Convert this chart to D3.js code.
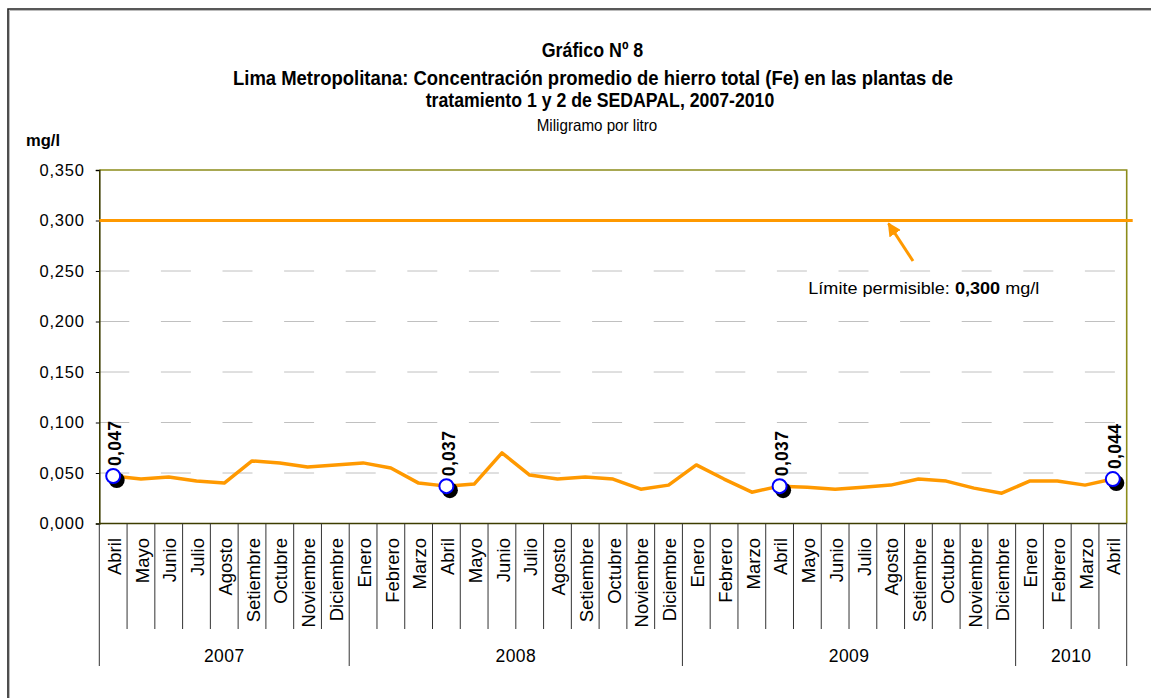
<!DOCTYPE html>
<html>
<head>
<meta charset="utf-8">
<script src="https://cdn.jsdelivr.net/npm/d3@7/dist/d3.min.js"></script>
<style>
  html, body { margin: 0; padding: 0; background: #fff; }
  svg { display: block; font-family: "Liberation Sans", Arial, sans-serif; }
</style>
</head>
<body>
<svg id="chart" width="1151" height="698"></svg>
<script>
// ---------- DATA ----------
const months = ["Abril","Mayo","Junio","Julio","Agosto","Setiembre","Octubre","Noviembre","Diciembre",
  "Enero","Febrero","Marzo","Abril","Mayo","Junio","Julio","Agosto","Setiembre","Octubre","Noviembre","Diciembre",
  "Enero","Febrero","Marzo","Abril","Mayo","Junio","Julio","Agosto","Setiembre","Octubre","Noviembre","Diciembre",
  "Enero","Febrero","Marzo","Abril"];
const years = ["2007","2008","2009","2010"];
const yearCounts = [9, 12, 12, 4];
const values = [0.047,0.044,0.046,0.042,0.040,0.062,0.060,0.056,0.058,
  0.060,0.055,0.040,0.037,0.039,0.070,0.048,0.044,0.046,0.044,0.034,0.038,
  0.058,0.044,0.031,0.037,0.036,0.034,0.036,0.038,0.044,0.042,0.035,0.030,
  0.042,0.042,0.038,0.044];
const highlighted = [0, 12, 24, 36];
const yTicks = [0, 0.05, 0.10, 0.15, 0.20, 0.25, 0.30, 0.35];
const limitValue = 0.300;
const titleLines = ["Gráfico Nº 8",
  "Lima Metropolitana: Concentración promedio de hierro total (Fe) en las plantas de",
  "tratamiento 1 y 2 de SEDAPAL, 2007-2010"];
const subtitle = "Miligramo por litro";
const yUnit = "mg/l";

// ---------- SETUP ----------
(function () {
const svg = d3.select("#chart");
const fmt = v => v.toFixed(3).replace(".", ",");
const orange = "#ff9900";

const pLeft = 99.3, pRight = 1126.7, pTop = 170, pBottom = 523.5;
const x = d3.scaleBand().domain(d3.range(months.length)).range([pLeft, pRight]).paddingInner(0).paddingOuter(0);
const y = d3.scaleLinear().domain([0, 0.35]).range([pBottom, pTop]);
const cx = i => x(i) + x.bandwidth() / 2;

// outer border
svg.append("path").attr("d", "M8,700 L8,9 L1155,9").attr("fill", "none").attr("stroke", "#222").attr("stroke-width", 1.6);
svg.append("path").attr("d", "M9.5,700 L9.5,10.5 L1155,10.5").attr("fill", "none").attr("stroke", "#bbb").attr("stroke-width", 1);

// titles
const titleSpecs = [
  {t: titleLines[0], x: 541.7, y: 56.5, w: 101.6},
  {t: titleLines[1], x: 233, y: 85, w: 720},
  {t: titleLines[2], x: 425.7, y: 106.5, w: 348.6}
];
titleSpecs.forEach(s => {
  svg.append("text").attr("x", s.x).attr("y", s.y).attr("font-size", 21).attr("font-weight", "bold")
    .attr("textLength", s.w).attr("lengthAdjust", "spacingAndGlyphs").attr("fill", "#000").text(s.t);
});
svg.append("text").attr("x", 536.7).attr("y", 131).attr("font-size", 16.5)
  .attr("textLength", 120.6).attr("lengthAdjust", "spacingAndGlyphs").text(subtitle);

svg.append("text").attr("x", 26).attr("y", 146).attr("font-size", 17).attr("font-weight", "bold")
  .attr("textLength", 34).attr("lengthAdjust", "spacingAndGlyphs").text(yUnit);

// gridlines (dashed)
svg.append("g").selectAll("line").data(yTicks.filter(v => v > 0 && v < 0.35)).join("line")
  .attr("x1", pLeft).attr("x2", pRight).attr("y1", d => y(d)).attr("y2", d => y(d))
  .attr("stroke", "#c0c0c0").attr("stroke-width", 1).attr("stroke-dasharray", "30,31.6");

// plot frame top/right
svg.append("path").attr("d", `M${pLeft},${pTop} L${pRight},${pTop} L${pRight},${pBottom}`)
  .attr("fill", "none").attr("stroke", "#8c8c1a").attr("stroke-width", 1.6);

// y axis
const yAxis = d3.axisLeft(y).tickValues(yTicks).tickSize(3.5).tickPadding(11).tickFormat(fmt);
const gy = svg.append("g").attr("transform", `translate(${pLeft},0)`).call(yAxis);
gy.select(".domain").attr("stroke", "#3d3d00").attr("stroke-width", 1.6);
gy.selectAll(".tick line").attr("stroke", "#000");
gy.selectAll(".tick text").attr("font-size", 16.5).attr("letter-spacing", 0.8)
  .attr("font-family", "'Liberation Sans', Arial, sans-serif").attr("fill", "#000");

// limit line
svg.append("line").attr("x1", pLeft).attr("x2", pRight + 6).attr("y1", y(limitValue)).attr("y2", y(limitValue))
  .attr("stroke", orange).attr("stroke-width", 3);

// x axis baseline
svg.append("line").attr("x1", pLeft).attr("x2", pRight).attr("y1", pBottom).attr("y2", pBottom)
  .attr("stroke", "#3d3d00").attr("stroke-width", 1.6);

// month ticks & year separators
const yearStarts = [];
let acc = 0;
yearCounts.forEach(c => { yearStarts.push(acc); acc += c; });
const boundaries = d3.range(months.length + 1);
svg.append("g").selectAll("line").data(boundaries).join("line")
  .attr("x1", i => i < months.length ? x(i) : pRight).attr("x2", i => i < months.length ? x(i) : pRight)
  .attr("y1", pBottom)
  .attr("y2", i => (yearStarts.includes(i) || i === months.length) ? 666 : 629)
  .attr("stroke", "#333").attr("stroke-width", 1);

// month labels
svg.append("g").selectAll("text").data(months).join("text")
  .attr("transform", (d, i) => `translate(${cx(i) + 1},538) rotate(-90)`)
  .attr("text-anchor", "end").attr("dy", "0.36em").attr("font-size", 18.5).attr("fill", "#000")
  .text(d => d);

// year labels
svg.append("g").selectAll("text").data(years).join("text")
  .attr("x", (d, i) => (x(yearStarts[i]) + (i < years.length - 1 ? x(yearStarts[i + 1]) : pRight)) / 2)
  .attr("y", 661.5).attr("text-anchor", "middle").attr("font-size", 17.5).attr("letter-spacing", 0.4)
  .attr("fill", "#000").text(d => d);

// series line
const line = d3.line().x((d, i) => cx(i)).y(d => y(d));
svg.append("path").datum(values).attr("d", line).attr("fill", "none")
  .attr("stroke", orange).attr("stroke-width", 3.5).attr("stroke-linejoin", "round");

// highlighted markers
const hg = svg.append("g");
hg.selectAll("circle.shadow").data(highlighted).join("circle").attr("class", "shadow")
  .attr("cx", i => cx(i) + 3.5).attr("cy", i => y(values[i]) + 4).attr("r", 8).attr("fill", "#000");
hg.selectAll("circle.mark").data(highlighted).join("circle").attr("class", "mark")
  .attr("cx", i => cx(i)).attr("cy", i => y(values[i])).attr("r", 7).attr("fill", "#fff")
  .attr("stroke", "#0000ff").attr("stroke-width", 2);
hg.selectAll("text").data(highlighted).join("text")
  .attr("transform", i => `translate(${cx(i) + 2},${y(values[i]) - 10}) rotate(-90)`)
  .attr("dy", "0.36em").attr("font-size", 17.5).attr("font-weight", "bold").attr("letter-spacing", 0.3)
  .attr("fill", "#000").text(i => fmt(values[i]));

// annotation arrow
const defs = svg.append("defs");
defs.append("marker").attr("id", "arrowhead").attr("viewBox", "0 0 10 10").attr("refX", 9).attr("refY", 5)
  .attr("markerWidth", 4.5).attr("markerHeight", 4.5).attr("orient", "auto")
  .append("path").attr("d", "M0,0 L10,5 L0,10 Z").attr("fill", orange);
svg.append("line").attr("x1", 913).attr("y1", 261).attr("x2", 888.5).attr("y2", y(limitValue) + 3)
  .attr("stroke", orange).attr("stroke-width", 3).attr("marker-end", "url(#arrowhead)");

const ann = svg.append("text").attr("x", 808.3).attr("y", 294).attr("font-size", 16.5)
  .attr("textLength", 231).attr("lengthAdjust", "spacingAndGlyphs").attr("fill", "#000");
ann.append("tspan").text("Límite permisible: ");
ann.append("tspan").attr("font-weight", "bold").text(fmt(limitValue));
ann.append("tspan").text(" mg/l");
})();
</script>
</body>
</html>
